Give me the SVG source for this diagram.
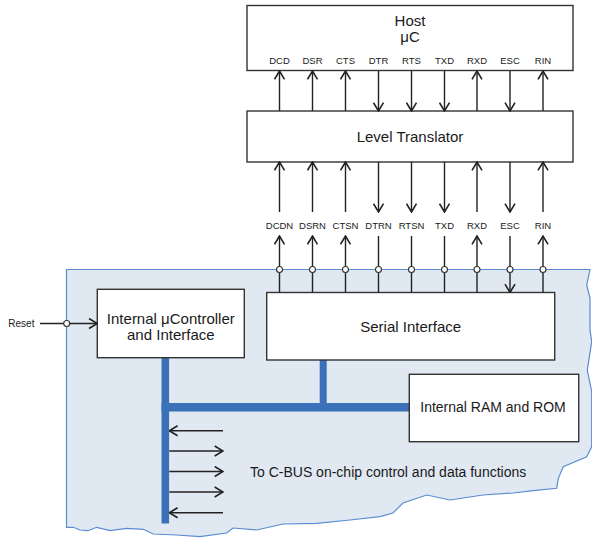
<svg xmlns="http://www.w3.org/2000/svg" width="592" height="538" viewBox="0 0 592 538">
<defs>
<style>
.box{fill:#fff;stroke:#333;stroke-width:1.4}
.t{font-family:"Liberation Sans",Arial,sans-serif;fill:#1a1a1a}
.big{font-size:15px}
.mid{font-size:14px}
.sm{font-size:9.5px}
.ln{stroke:#222;stroke-width:1.4;fill:none}
.bus{fill:#3b71b9}
.dot{fill:#fff;stroke:#333;stroke-width:1.1}
</style>
<marker id="ah" markerUnits="userSpaceOnUse" viewBox="0 0 10 12" refX="9.3" refY="6" markerWidth="10" markerHeight="12" orient="auto">
<path d="M1,1 L9.3,6 L1,11" fill="none" stroke="#222" stroke-width="1.6"/>
</marker>
</defs>

<g id="chip-region">
<path d="M66.5,269.5 L590,269.5 L586.7,285 L590,298 L590,330 L591.7,341.7 L587.3,370 L591.7,391.7 L591.7,446.7 L586.7,456.7 L563.3,466.7 L558.3,478.3 L556.7,488.3 L533.3,490.7 L513,493 L483,495 L450,500 L426.7,495 L403,503 L393,513 L380,516.7 L350,520 L316.7,523.3 L283,524 L256.7,530 L233,528 L226.7,533 L200,536.7 L176.7,535 L153.3,534 L143.3,529.3 L126.7,528.3 L110,530.7 L96.7,527.3 L88,530.7 L80,530 L73.3,527.3 L66.5,527.3 Z" fill="#e0e8f2" stroke="#5b8cd1" stroke-width="1.2"/>
</g>

<g id="bus">
<rect class="bus" x="161.5" y="357" width="7.6" height="166.5"/>
<rect class="bus" x="161.5" y="403" width="248" height="8.5"/>
<rect class="bus" x="319.7" y="360" width="7" height="44"/>
</g>

<g id="host">
<rect class="box" x="247" y="5.5" width="326" height="65"/>
<text class="t big" x="410" y="25.5" text-anchor="middle">Host</text>
<text class="t big" x="410" y="41.5" text-anchor="middle">μC</text>
<g class="t sm" text-anchor="middle">
<text x="279.5" y="64">DCD</text>
<text x="312.5" y="64">DSR</text>
<text x="345.5" y="64">CTS</text>
<text x="378.5" y="64">DTR</text>
<text x="411.5" y="64">RTS</text>
<text x="444.5" y="64">TXD</text>
<text x="477" y="64">RXD</text>
<text x="510" y="64">ESC</text>
<text x="543" y="64">RIN</text>
</g>
</g>

<g id="level-translator">
<rect class="box" x="247" y="111" width="326" height="51"/>
<text class="t big" x="410" y="141.5" text-anchor="middle">Level Translator</text>
</g>

<g id="signal-labels" class="t sm" text-anchor="middle">
<text x="279.5" y="229">DCDN</text>
<text x="312.5" y="229">DSRN</text>
<text x="345.5" y="229">CTSN</text>
<text x="378.5" y="229">DTRN</text>
<text x="411.5" y="229">RTSN</text>
<text x="444.5" y="229">TXD</text>
<text x="477" y="229">RXD</text>
<text x="510" y="229">ESC</text>
<text x="543" y="229">RIN</text>
</g>

<g id="serial-interface">
<rect class="box" x="266.7" y="292.5" width="288" height="67.5"/>
<text class="t big" x="410.7" y="331.5" text-anchor="middle">Serial Interface</text>
</g>

<g id="internal-controller">
<rect class="box" x="97.3" y="289.3" width="147" height="68.4"/>
<text class="t big" x="170.8" y="324" text-anchor="middle">Internal μController</text>
<text class="t big" x="170.8" y="339.5" text-anchor="middle">and Interface</text>
</g>

<g id="ram-rom">
<rect class="box" x="409.3" y="374.3" width="169.4" height="67.4"/>
<text class="t mid" x="493" y="411.7" text-anchor="middle">Internal RAM and ROM</text>
</g>

<g id="cbus-label">
<text class="t mid" x="250" y="477.3">To C-BUS on-chip control and data functions</text>
</g>

<g id="reset">
<text class="t" font-size="10" x="8.3" y="327">Reset</text>
</g>

<g id="connectors">
<line class="ln" x1="279.5" y1="111" x2="279.5" y2="71" marker-end="url(#ah)"/>
<line class="ln" x1="312.5" y1="111" x2="312.5" y2="71" marker-end="url(#ah)"/>
<line class="ln" x1="345.5" y1="111" x2="345.5" y2="71" marker-end="url(#ah)"/>
<line class="ln" x1="378.5" y1="71" x2="378.5" y2="111" marker-end="url(#ah)"/>
<line class="ln" x1="411.5" y1="71" x2="411.5" y2="111" marker-end="url(#ah)"/>
<line class="ln" x1="444.5" y1="71" x2="444.5" y2="111" marker-end="url(#ah)"/>
<line class="ln" x1="477" y1="111" x2="477" y2="71" marker-end="url(#ah)"/>
<line class="ln" x1="510" y1="71" x2="510" y2="111" marker-end="url(#ah)"/>
<line class="ln" x1="543" y1="111" x2="543" y2="71" marker-end="url(#ah)"/>
<line class="ln" x1="279.5" y1="212" x2="279.5" y2="162" marker-end="url(#ah)"/>
<line class="ln" x1="312.5" y1="212" x2="312.5" y2="162" marker-end="url(#ah)"/>
<line class="ln" x1="345.5" y1="212" x2="345.5" y2="162" marker-end="url(#ah)"/>
<line class="ln" x1="378.5" y1="162" x2="378.5" y2="212" marker-end="url(#ah)"/>
<line class="ln" x1="411.5" y1="162" x2="411.5" y2="212" marker-end="url(#ah)"/>
<line class="ln" x1="444.5" y1="162" x2="444.5" y2="212" marker-end="url(#ah)"/>
<line class="ln" x1="477" y1="212" x2="477" y2="162" marker-end="url(#ah)"/>
<line class="ln" x1="510" y1="162" x2="510" y2="212" marker-end="url(#ah)"/>
<line class="ln" x1="543" y1="212" x2="543" y2="162" marker-end="url(#ah)"/>
<line class="ln" x1="279.5" y1="269.5" x2="279.5" y2="236" marker-end="url(#ah)"/>
<line class="ln" x1="312.5" y1="269.5" x2="312.5" y2="236" marker-end="url(#ah)"/>
<line class="ln" x1="345.5" y1="269.5" x2="345.5" y2="236" marker-end="url(#ah)"/>
<line class="ln" x1="378.5" y1="236" x2="378.5" y2="269.5"/>
<line class="ln" x1="411.5" y1="236" x2="411.5" y2="269.5"/>
<line class="ln" x1="444.5" y1="236" x2="444.5" y2="269.5"/>
<line class="ln" x1="477" y1="269.5" x2="477" y2="236" marker-end="url(#ah)"/>
<line class="ln" x1="510" y1="236" x2="510" y2="269.5"/>
<line class="ln" x1="543" y1="269.5" x2="543" y2="236" marker-end="url(#ah)"/>
<line class="ln" x1="279.5" y1="269.5" x2="279.5" y2="292.5"/>
<line class="ln" x1="312.5" y1="269.5" x2="312.5" y2="292.5"/>
<line class="ln" x1="345.5" y1="269.5" x2="345.5" y2="292.5"/>
<line class="ln" x1="378.5" y1="269.5" x2="378.5" y2="292.5"/>
<line class="ln" x1="411.5" y1="269.5" x2="411.5" y2="292.5"/>
<line class="ln" x1="444.5" y1="269.5" x2="444.5" y2="292.5"/>
<line class="ln" x1="477" y1="269.5" x2="477" y2="292.5"/>
<line class="ln" x1="510" y1="269.5" x2="510" y2="292.5" marker-end="url(#ah)"/>
<line class="ln" x1="543" y1="269.5" x2="543" y2="292.5"/>
<line class="ln" x1="40" y1="323.5" x2="97.3" y2="323.5" marker-end="url(#ah)"/>
<line class="ln" x1="223" y1="430.7" x2="169.3" y2="430.7" marker-end="url(#ah)"/>
<line class="ln" x1="169.3" y1="451" x2="223" y2="451" marker-end="url(#ah)"/>
<line class="ln" x1="169.3" y1="471.5" x2="223" y2="471.5" marker-end="url(#ah)"/>
<line class="ln" x1="169.3" y1="492" x2="223" y2="492" marker-end="url(#ah)"/>
<line class="ln" x1="223" y1="512.7" x2="169.3" y2="512.7" marker-end="url(#ah)"/>
<circle class="dot" cx="279.5" cy="269.5" r="3"/>
<circle class="dot" cx="312.5" cy="269.5" r="3"/>
<circle class="dot" cx="345.5" cy="269.5" r="3"/>
<circle class="dot" cx="378.5" cy="269.5" r="3"/>
<circle class="dot" cx="411.5" cy="269.5" r="3"/>
<circle class="dot" cx="444.5" cy="269.5" r="3"/>
<circle class="dot" cx="477" cy="269.5" r="3"/>
<circle class="dot" cx="510" cy="269.5" r="3"/>
<circle class="dot" cx="543" cy="269.5" r="3"/>
<circle class="dot" cx="66.7" cy="323.5" r="3"/>
</g>
</svg>
